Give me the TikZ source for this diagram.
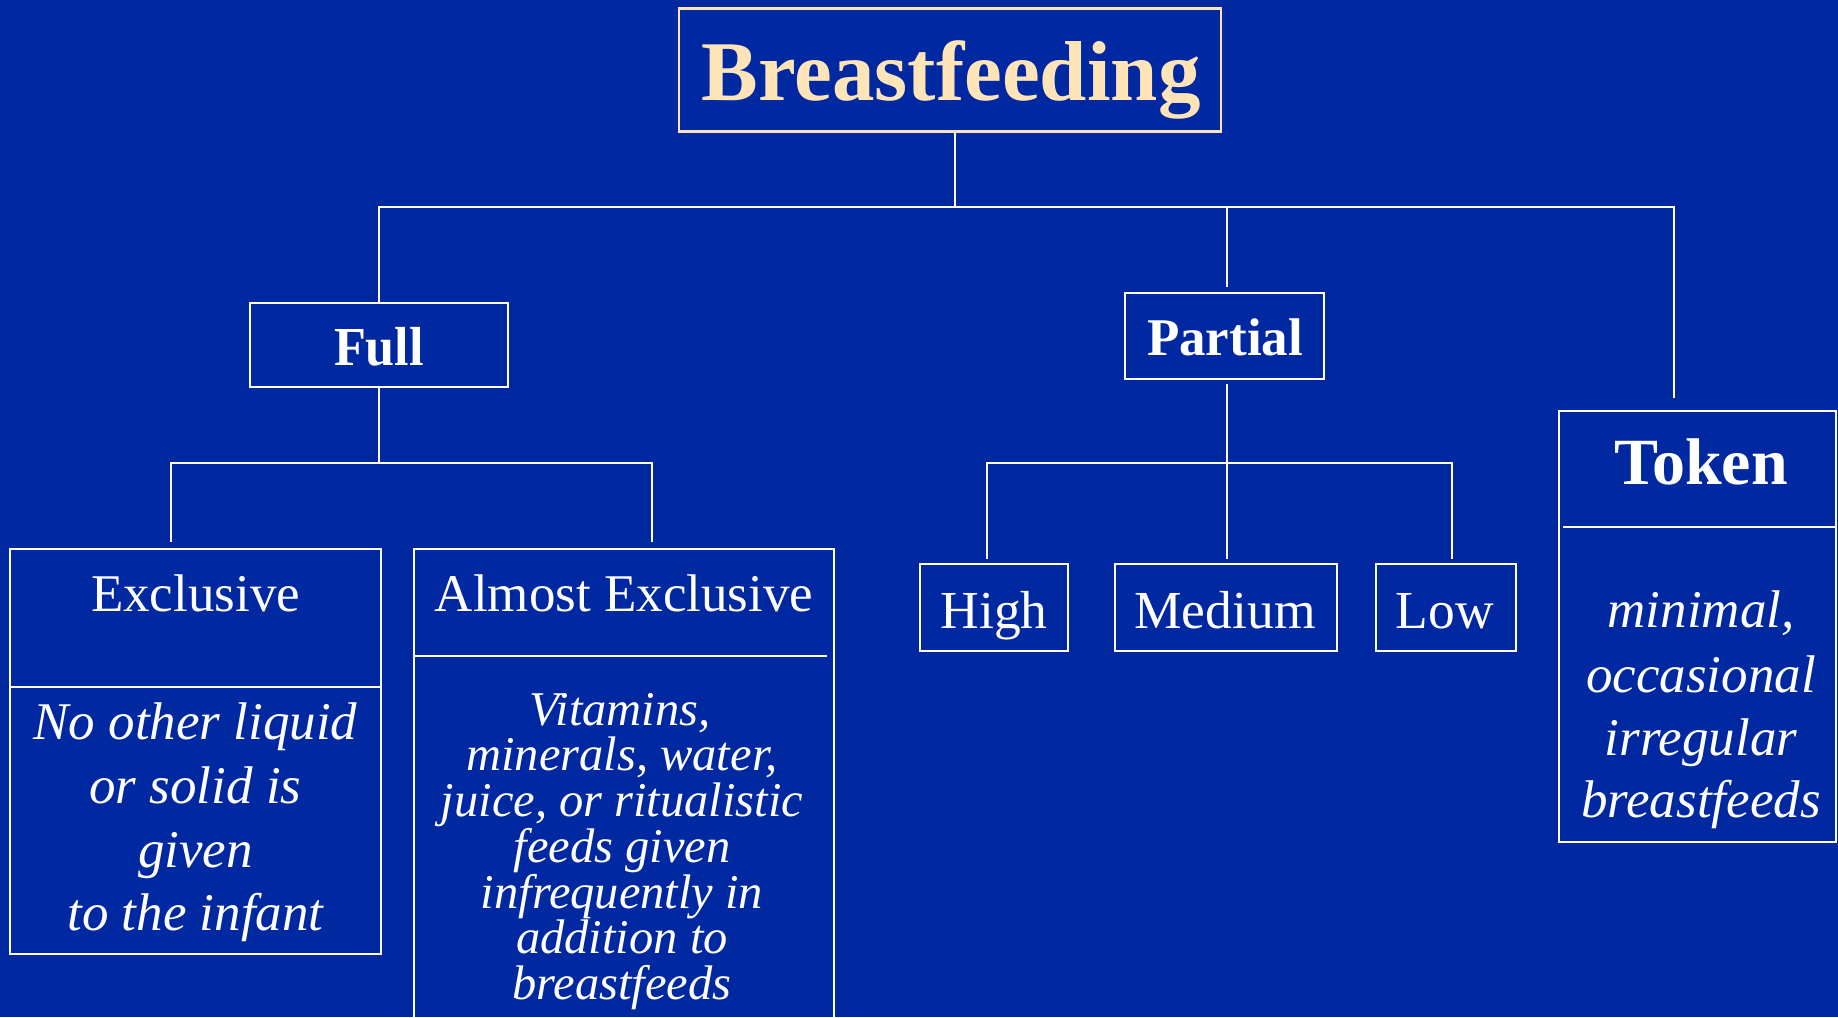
\documentclass[tikz,border=0pt]{standalone}
\usepackage{graphicx}
\usepackage{fontspec}
\setmainfont{Liberation Serif}
\definecolor{bg}{HTML}{0028A0}
\definecolor{cream}{HTML}{FFE4B8}
\newcommand{\hsc}[2]{\scalebox{#1}[1]{#2}}
\begin{document}
\begin{tikzpicture}[x=1pt,y=-1pt,
  box/.style={draw=white, line width=2.2pt, rectangle, inner sep=0pt},
  conn/.style={draw=white, line width=2pt},
  txt/.style={anchor=base, inner sep=0pt, text=white},
  reg/.style={txt, font=\fontsize{53}{53}\selectfont},
  itl/.style={txt, font=\fontsize{53}{53}\selectfont\itshape},
  itm/.style={txt, font=\fontsize{48.5}{48.5}\selectfont\itshape}]
\useasboundingbox (0,0) rectangle (1838,1017);
\fill[bg] (0,0) rectangle (1838,1017);

% boxes
\node[box, draw=cream, line width=2.8pt, minimum width=542pt, minimum height=123pt] (top) at (950,70) {};
\node[box, minimum width=258pt, minimum height=84pt] (full) at (379,345) {};
\node[box, minimum width=199pt, minimum height=86pt] (partial) at (1224.5,336) {};
\node[box, minimum width=277pt, minimum height=431pt] (token) at (1697.5,626.5) {};
\node[box, minimum width=371pt, minimum height=405pt] (excl) at (195.5,751.5) {};
\node[box, minimum width=420pt, minimum height=481pt] (almost) at (624,789.5) {};
\node[box, minimum width=148pt, minimum height=87pt] (high) at (994,607.5) {};
\node[box, minimum width=222pt, minimum height=87pt] (medium) at (1226,607.5) {};
\node[box, minimum width=140pt, minimum height=87pt] (low) at (1446,607.5) {};

% dividers
\draw[conn] (excl.west |- 0,687) -- (excl.east |- 0,687);
\draw[conn] (almost.west |- 0,656) -- (827,656);
\draw[conn] (1563,527) -- (token.east |- 0,527);

% connectors
\coordinate (j0) at (955,207);
\coordinate (pstub) at (1227,287);
\coordinate (tstub) at (1674,398);
\draw[conn] (top.south -| j0) -- (j0);
\draw[conn] (full.north) -- (full.north |- j0) -- (j0 -| tstub) -- (tstub);
\draw[conn] (pstub) -- (pstub |- j0);

\coordinate (j1) at (379,463);
\coordinate (exstub) at (171,542);
\coordinate (alstub) at (652,542);
\draw[conn] (full.south) -- (j1);
\draw[conn] (exstub) -- (exstub |- j1) -- (j1 -| alstub) -- (alstub);

\coordinate (j2) at (1227,463);
\coordinate (hstub) at (987,559);
\coordinate (mstub) at (1227,559);
\coordinate (lstub) at (1452,559);
\draw[conn] (1227,384) -- (mstub);
\draw[conn] (hstub) -- (hstub |- j2) -- (j2 -| lstub) -- (lstub);

% texts
\node[txt, text=cream, font=\fontsize{85}{85}\selectfont\bfseries] (ttop) at (951,100) {Breastfeeding};
\node[txt, font=\fontsize{55}{55}\selectfont\bfseries] (tfull) at (379,365) {\hsc{0.95}{Full}};
\node[txt, font=\fontsize{53}{53}\selectfont\bfseries] (tpartial) at (1225,355) {Partial};
\node[txt, font=\fontsize{66}{66}\selectfont\bfseries] (ttoken) at (1701,484) {Token};
\node[txt, font=\fontsize{53.5}{53.5}\selectfont] (thigh) at (994,628) {High};
\node[txt, font=\fontsize{53.5}{53.5}\selectfont] (tmed) at (1225,628) {Medium};
\node[txt, font=\fontsize{53.5}{53.5}\selectfont] (tlow) at (1445,628) {Low};
\node[reg] (texcl) at (195.5,611) {Exclusive};
\node[reg] (talm) at (624,611) {Almost Exclusive};

\node[itl] (e1) at (195.5,739) {No other liquid};
\node[itl] (e2) at (195.5,803) {or solid is};
\node[itl] (e3) at (195.5,867) {given};
\node[itl] (e4) at (195.5,930) {to the infant};

\node[itm] (a1) at (620,725) {Vitamins,};
\node[itm] (a2) at (622,770.5) {minerals, water,};
\node[itm] (a3) at (622,816) {juice, or ritualistic};
\node[itm] (a4) at (622,862) {feeds given};
\node[itm] (a5) at (622,908) {infrequently in};
\node[itm] (a6) at (622,953.5) {addition to};
\node[itm] (a7) at (622,999) {breastfeeds};

\node[itl] (k1) at (1701,627) {minimal,};
\node[itl] (k2) at (1701,692) {occasional};
\node[itl] (k3) at (1701,755) {irregular};
\node[itl] (k4) at (1701,817) {breastfeeds};
\end{tikzpicture}
\end{document}
